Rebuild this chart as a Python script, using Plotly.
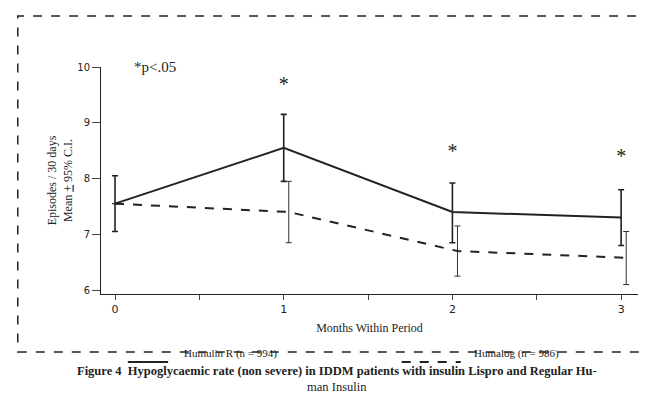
import plotly.graph_objects as go

months = [0, 1, 2, 3]
humulin = [7.55, 8.55, 7.40, 7.30]
humulin_lo = [7.05, 7.95, 6.85, 6.80]
humulin_hi = [8.05, 9.15, 7.92, 7.80]
humalog = [7.55, 7.40, 6.70, 6.58]
humalog_lo = [7.55, 6.85, 6.25, 6.10]
humalog_hi = [7.55, 7.95, 7.15, 7.05]
star_x = [1, 2, 3]
star_y = [9.66, 8.45, 8.36]

serif = "Liberation Serif"
fig = go.Figure()
fig.add_trace(go.Scatter(
    x=months, y=humulin, mode="lines", line=dict(color="#222", width=2),
    error_y=dict(type="data", symmetric=False,
                 array=[h - m for h, m in zip(humulin_hi, humulin)],
                 arrayminus=[m - l for m, l in zip(humulin, humulin_lo)],
                 color="#222", thickness=1.6, width=3),
    showlegend=False))
fig.add_trace(go.Scatter(
    x=[m + 0.03 if m else m for m in months], y=humalog, mode="lines",
    line=dict(color="#222", width=2, dash="dash"),
    error_y=dict(type="data", symmetric=False,
                 array=[h - m for h, m in zip(humalog_hi, humalog)],
                 arrayminus=[m - l for m, l in zip(humalog, humalog_lo)],
                 color="#333", thickness=1, width=3),
    showlegend=False))
fig.add_trace(go.Scatter(x=star_x, y=star_y, mode="text", text=["*"] * 3,
                         textfont=dict(family=serif, size=20, color="#222"),
                         showlegend=False))

fig.update_xaxes(range=[-0.083, 3.1], tickvals=[0, 0.5, 1, 1.5, 2, 2.5, 3],
                 ticktext=["0", "", "1", "", "2", "", "3"], ticks="outside",
                 ticklen=5, showline=True, linecolor="#222", showgrid=False,
                 zeroline=False, tickfont=dict(family="DejaVu Sans", size=11),
                 title=dict(text="Months Within Period", font=dict(family=serif, size=12), standoff=8))
fig.update_yaxes(range=[5.93, 10.0], tickvals=[6, 7, 8, 9, 10], ticks="outside",
                 ticklen=8, showline=True, linecolor="#222", showgrid=False,
                 zeroline=False, tickfont=dict(family="DejaVu Sans", size=10),
                 title=dict(text="Episodes / 30 days<br>Mean <u>+</u> 95% C.I.",
                            font=dict(family=serif, size=12), standoff=2))

shapes = [
    dict(type="rect", xref="paper", yref="paper", x0=-0.155, x1=1.013, y0=-0.255, y1=1.225,
         line=dict(color="#222", width=1.5, dash="dash")),
    dict(type="line", xref="paper", yref="paper", x0=0.05, x1=0.125, y0=-0.3, y1=-0.3,
         line=dict(color="#222", width=2)),
    dict(type="line", xref="paper", yref="paper", x0=0.56, x1=0.67, y0=-0.3, y1=-0.3,
         line=dict(color="#222", width=2, dash="dash")),
]
annotations = [
    dict(xref="x", yref="y", x=0.1, y=10, text="*p<.05", showarrow=False, xanchor="left",
         font=dict(family=serif, size=15)),
    dict(xref="paper", yref="paper", x=0.15, y=-0.3, text="Humulin R (n = 994)", showarrow=False,
         xanchor="left", font=dict(family=serif, size=11)),
    dict(xref="paper", yref="paper", x=0.69, y=-0.3, text="Humalog (n = 986)", showarrow=False,
         xanchor="left", font=dict(family=serif, size=11)),
    dict(xref="paper", yref="paper", x=0.44, y=-0.45,
         text="<b>Figure 4  Hypoglycaemic rate (non severe) in IDDM patients with insulin Lispro and Regular Hu-</b><br>man Insulin",
         showarrow=False, align="center", font=dict(family=serif, size=12.5)),
]
fig.update_layout(width=650, height=413, margin=dict(l=93, r=20, t=59, b=127),
                  plot_bgcolor="white", paper_bgcolor="white", font=dict(color="#222"),
                  shapes=shapes, annotations=annotations)
fig.write_html("out.html")
